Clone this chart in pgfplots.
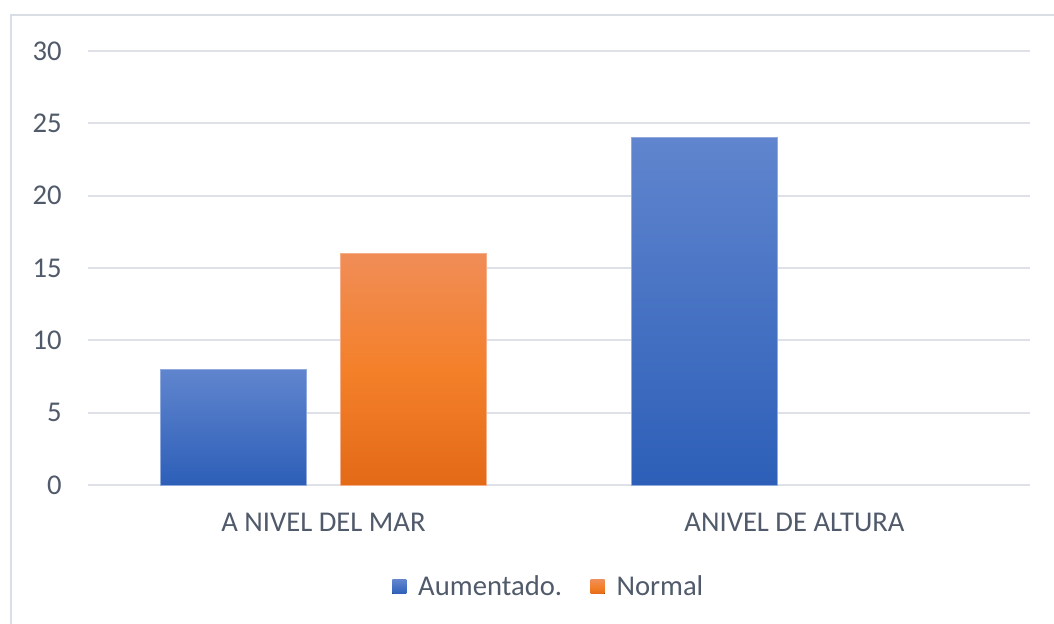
\documentclass[border=0pt]{standalone}
\usepackage{pgfplots}
\pgfplotsset{compat=1.18}
\usepackage{fontspec}
\setmainfont{Carlito}
\definecolor{txtc}{RGB}{80,90,106}
\definecolor{gridc}{RGB}{222,226,232}
\definecolor{framec}{RGB}{217,222,228}
\definecolor{btop}{RGB}{96,133,206}
\definecolor{bbot}{RGB}{45,95,184}
\definecolor{otop}{RGB}{240,141,87}
\definecolor{omid}{RGB}{244,128,42}
\definecolor{obot}{RGB}{227,106,23}
\begin{document}
\begin{tikzpicture}
\path[use as bounding box] (0,0) rectangle (21.08cm,12.48cm);
\draw[framec, line width=0.05cm] (0.22cm,0) -- (0.22cm,12.18cm) -- (21.08cm,12.18cm);
\begin{axis}[
  at={(1.76cm,2.78cm)}, anchor=south west,
  scale only axis, width=18.84cm, height=8.68cm,
  xmin=-0.5, xmax=1.5, ymin=0, ymax=30,
  xtick={0,1}, xticklabels={A NIVEL DEL MAR, ANIVEL DE ALTURA},
  ytick={0,5,10,15,20,25,30},
  axis line style={draw=none},
  ymajorgrids, grid style={draw=gridc, line width=0.04cm},
  major tick length=0pt,
  tick label style={font=\fontsize{16.3}{19}\selectfont, text=txtc},
  /pgf/number format/assume math mode=true,
  yticklabel style={inner sep=0pt, anchor=east, xshift=-0.52cm},
  xticklabel style={inner sep=0pt, anchor=center, yshift=-0.74cm},
  legend style={at={(0.49,-0.235)}, anchor=center, draw=none, fill=none,
    legend columns=2, font=\fontsize{16.3}{19}\selectfont, text=txtc,
    /tikz/every even column/.append style={column sep=0.5cm}},
  legend image code/.code={\fill[#1, draw=none] (0cm,-0.14cm) rectangle (0.28cm,0.14cm);
    \path (0.44cm,0);},
  clip=false,
]
\addplot[ybar, bar width=0.31, bar shift=-0.192, draw=btop!70!white, line width=0.4pt,
  top color=btop, bottom color=bbot]
  coordinates {(0,8)};
\addlegendentry{Aumentado.}
\addplot[ybar, bar width=0.31, bar shift=0.191, draw=otop!70!white, line width=0.4pt,
  top color=otop, bottom color=obot, middle color=omid]
  coordinates {(0,16)};
\addlegendentry{Normal}
\addplot[ybar, bar width=0.31, bar shift=-0.192, draw=btop!70!white, line width=0.4pt,
  top color=btop, bottom color=bbot, forget plot]
  coordinates {(1,24)};
\end{axis}
\end{tikzpicture}
\end{document}
